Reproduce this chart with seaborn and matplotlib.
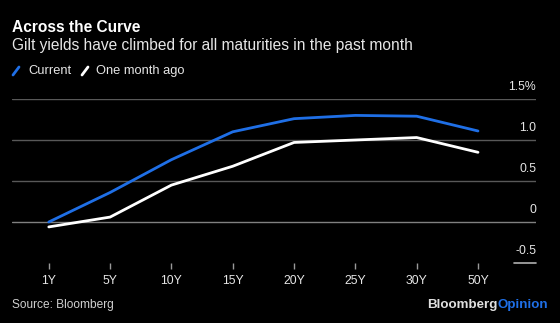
import matplotlib
matplotlib.use("Agg")
import matplotlib.pyplot as plt
from matplotlib.lines import Line2D
import seaborn as sns
import pandas as pd

# Gilt yield curve, % by maturity
maturities = ["1Y", "5Y", "10Y", "15Y", "20Y", "25Y", "30Y", "50Y"]
current = [0.00, 0.36, 0.76, 1.10, 1.26, 1.30, 1.29, 1.11]
month_ago = [-0.06, 0.06, 0.45, 0.68, 0.97, 1.00, 1.03, 0.85]
y_ticks = [-0.5, 0, 0.5, 1.0, 1.5]
y_tick_labels = ["-0.5", "0", "0.5", "1.0", "1.5%"]

BLUE = "#1f6fe6"
WHITE = "#ffffff"
GRID = "#585858"
TEXT = "#e6e6e6"

df = pd.DataFrame({
    "maturity": maturities * 2,
    "pos": list(range(len(maturities))) * 2,
    "yield": current + month_ago,
    "series": ["Current"] * len(maturities) + ["One month ago"] * len(maturities),
})

sns.set_theme(style="dark")
plt.rcParams["font.family"] = ["Liberation Sans", "DejaVu Sans"]

W, H = 560, 323
fig = plt.figure(figsize=(W / 100, H / 100), dpi=100, facecolor="black")
left, right, top, bottom = 12, 536, 99, 263
ax = fig.add_axes([left / W, 1 - bottom / H, (right - left) / W, (bottom - top) / H])
ax.set_facecolor("black")

for v in y_ticks:
    if v == -0.5:
        ln = ax.axhline(v, xmin=(514 - left) / (right - left), xmax=1, color="#b0b0b0",
                        lw=1.2, zorder=1)
        ln.set_clip_on(False)
    else:
        ax.axhline(v, color=GRID if v != 0 else "#808080", lw=1, zorder=1)

sns.lineplot(data=df, x="pos", y="yield", hue="series",
             palette={"Current": BLUE, "One month ago": WHITE},
             linewidth=2.0, legend=False, ax=ax, zorder=3)

ax.set_xlim(-0.6, 7.946)
ax.set_ylim(-0.5, 1.5)
ax.set_xticks(range(len(maturities)))
ax.set_xticklabels(maturities)
ax.set_yticks([])
ax.set_xlabel("")
ax.set_ylabel("")
ax.grid(False)
for s in ax.spines.values():
    s.set_visible(False)
ax.tick_params(axis="x", bottom=True, length=4, width=1, color="#9a9a9a",
               direction="out", pad=5, labelsize=8.8, labelcolor=TEXT)

# Y labels sit at the right end, just above their gridlines
for v, lab in zip(y_ticks, y_tick_labels):
    ax.text(1.0, v + 0.07, lab, transform=ax.get_yaxis_transform(), ha="right",
            va="bottom", fontsize=8.8, color=TEXT)

fig.text(12 / W, 1 - 27 / H, "Across the Curve", fontsize=11.2, fontweight="bold",
         color=WHITE, va="center", ha="left")
fig.text(12 / W, 1 - 45.5 / H, "Gilt yields have climbed for all maturities in the past month",
         fontsize=11.2, color=TEXT, va="center", ha="left")

# Legend: slanted line swatches
def swatch(x0, color):
    fig.add_artist(Line2D([x0 / W, (x0 + 6) / W], [1 - 75 / H, 1 - 67 / H],
                          color=color, lw=2, transform=fig.transFigure))

swatch(13, BLUE)
fig.text(28.5 / W, 1 - 71 / H, "Current", fontsize=9.3, color=TEXT, va="center")
swatch(82, WHITE)
fig.text(96.5 / W, 1 - 71 / H, "One month ago", fontsize=9.3, color=TEXT, va="center")

fig.text(12.5 / W, 1 - 305 / H, "Source: Bloomberg", fontsize=8.6, color="#cfcfcf", va="center")
t1 = fig.text(427.5 / W, 1 - 305 / H, "Bloomberg", fontsize=9.6, fontweight="bold",
              color="#e0e0e0", va="center", ha="left")
fig.canvas.draw()
bb = t1.get_window_extent()
fig.text(bb.x1 / W, 1 - 305 / H, "Opinion", fontsize=9.6, fontweight="bold",
         color=BLUE, va="center", ha="left")

fig.savefig("out.png", dpi=100, facecolor="black")
